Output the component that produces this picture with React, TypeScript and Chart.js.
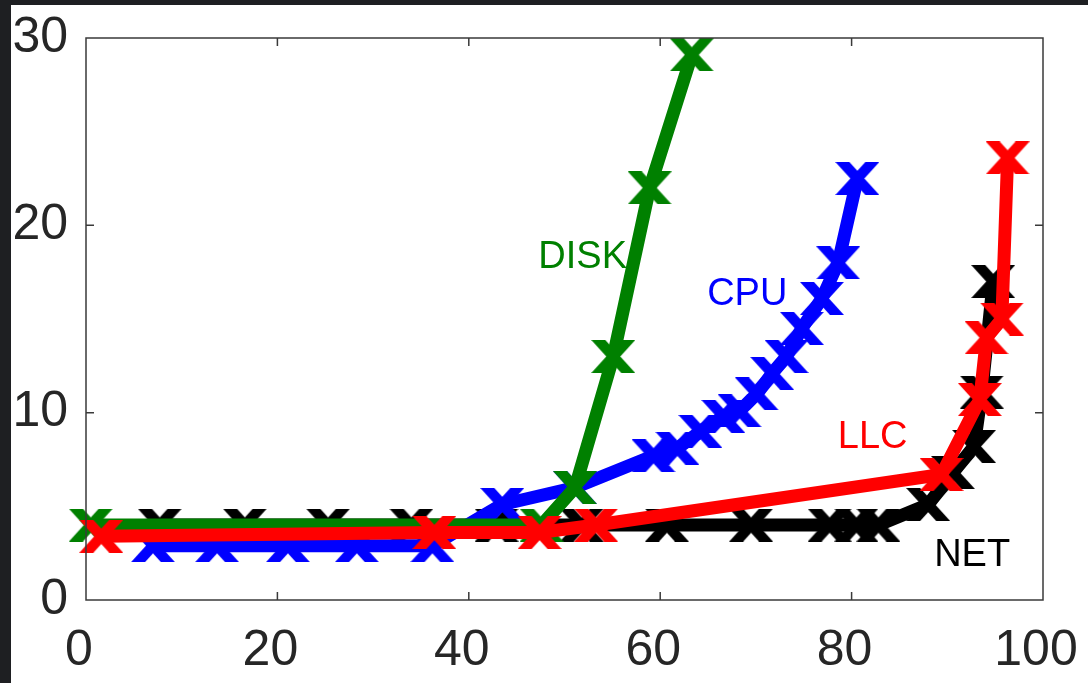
import React, { useEffect, useRef } from "react";
import { Chart, registerables } from "chart.js";

Chart.register(...registerables);

// ---- data ----
const xTickValues = [0, 20, 40, 60, 80, 100];
const yTickValues = [0, 10, 20, 30];

const netX = [7.7, 16.6, 25.3, 34.0, 42.9, 51.8, 60.7, 69.5, 77.7, 80.5, 82.8, 88.0, 90.6, 92.8, 93.6, 94.8];
const netY = [4.0, 4.0, 4.0, 4.0, 4.0, 4.0, 4.0, 4.0, 4.0, 4.0, 4.0, 5.1, 6.8, 8.2, 11.1, 17.0];

const cpuX = [7.0, 13.7, 21.1, 28.3, 36.2, 43.5, 51.1, 59.3, 61.8, 64.2, 66.6, 68.3, 70.1, 71.7, 73.2, 74.8, 76.9, 78.6, 80.6];
const cpuY = [2.9, 2.9, 2.9, 2.9, 2.9, 5.1, 6.0, 7.7, 8.1, 9.0, 9.8, 10.1, 11.0, 12.1, 13.0, 14.5, 16.1, 18.0, 22.5];

const diskX = [0.5, 47.6, 51.1, 55.1, 58.9, 63.3];
const diskY = [4.0, 4.0, 6.0, 13.0, 22.0, 29.1];

const llcX = [1.6, 36.4, 47.4, 53.3, 89.4, 93.4, 94.1, 95.7, 96.3];
const llcY = [3.4, 3.6, 3.6, 4.0, 6.7, 10.7, 14.0, 15.0, 23.6];

const seriesNames = ["LLC", "DISK", "CPU", "NET"];
const seriesColors = ["#ff0000", "#008000", "#0000ff", "#000000"];
// inline label anchor positions (data coordinates)
const labelX = [82.2, 51.9, 69.1, 92.6];
const labelY = [8.7, 18.3, 16.3, 2.35];

const FONT = "'Liberation Sans', Arial, Helvetica, sans-serif";

function makeMarker(color: string): HTMLCanvasElement {
  const W = 44;
  const H = 33;
  const s = 14;
  const c = document.createElement("canvas");
  c.width = W;
  c.height = H;
  const g = c.getContext("2d")!;
  g.fillStyle = color;
  g.beginPath();
  g.moveTo(0, 0);
  g.lineTo(s, 0);
  g.lineTo(W, H);
  g.lineTo(W - s, H);
  g.closePath();
  g.fill();
  g.beginPath();
  g.moveTo(W - s, 0);
  g.lineTo(W, 0);
  g.lineTo(s, H);
  g.lineTo(0, H);
  g.closePath();
  g.fill();
  return c;
}

function zip(xs: number[], ys: number[]) {
  return xs.map((x, i) => ({ x, y: ys[i] }));
}

const framePlugin = {
  id: "frame",
  afterDraw(chart: any) {
    const { ctx, chartArea: a, scales } = chart;
    ctx.save();
    ctx.strokeStyle = "#3a3a3a";
    ctx.lineWidth = 1.5;
    ctx.strokeRect(a.left, a.top, a.right - a.left, a.bottom - a.top);
    const tl = 8;
    ctx.beginPath();
    for (const v of xTickValues) {
      const px = scales.x.getPixelForValue(v);
      if (Math.abs(px - a.left) < 2 || Math.abs(px - a.right) < 2) continue;
      ctx.moveTo(px, a.bottom);
      ctx.lineTo(px, a.bottom - tl);
      ctx.moveTo(px, a.top);
      ctx.lineTo(px, a.top + tl);
    }
    for (const v of yTickValues) {
      const py = scales.y.getPixelForValue(v);
      if (Math.abs(py - a.top) < 2 || Math.abs(py - a.bottom) < 2) continue;
      ctx.moveTo(a.left, py);
      ctx.lineTo(a.left + tl, py);
      ctx.moveTo(a.right, py);
      ctx.lineTo(a.right - tl, py);
    }
    ctx.stroke();
    ctx.restore();
  },
};

const labelPlugin = {
  id: "inlineLabels",
  afterDatasetsDraw(chart: any) {
    const { ctx, scales } = chart;
    ctx.save();
    ctx.font = `38px ${FONT}`;
    ctx.textAlign = "center";
    ctx.textBaseline = "middle";
    seriesNames.forEach((name, i) => {
      ctx.fillStyle = seriesColors[i];
      ctx.fillText(name, scales.x.getPixelForValue(labelX[i]), scales.y.getPixelForValue(labelY[i]));
    });
    ctx.restore();
  },
};

export default function App() {
  const ref = useRef<HTMLCanvasElement | null>(null);

  useEffect(() => {
    if (!ref.current) return;
    const seriesData = [zip(llcX, llcY), zip(diskX, diskY), zip(cpuX, cpuY), zip(netX, netY)];
    const datasets = seriesNames.map((name, i) => ({
      label: name,
      data: seriesData[i],
      borderColor: seriesColors[i],
      backgroundColor: seriesColors[i],
      borderWidth: 13,
      borderJoinStyle: "round" as const,
      borderCapStyle: "butt" as const,
      pointStyle: makeMarker(seriesColors[i]),
      pointRadius: 20,
      pointHoverRadius: 20,
      tension: 0,
      order: i,
      clip: false as any,
    }));

    const tickFont = { family: FONT, size: 50 };
    const chart = new Chart(ref.current, {
      type: "line",
      data: { datasets },
      options: {
        animation: false,
        responsive: false,
        maintainAspectRatio: false,
        events: [],
        layout: { padding: { top: 33, right: 45, left: 0, bottom: 0 } },
        plugins: { legend: { display: false }, tooltip: { enabled: false } },
        scales: {
          x: {
            type: "linear",
            min: 0,
            max: 100,
            grid: { display: false, drawTicks: false },
            border: { display: false },
            afterBuildTicks: (s: any) => {
              s.ticks = xTickValues.map((v) => ({ value: v }));
            },
            afterFit: (s: any) => {
              s.height = 83;
              s.paddingLeft = 0;
              s.paddingRight = 0;
            },
            ticks: { color: "#262626", font: tickFont, padding: 21, maxRotation: 0, autoSkip: false, labelOffset: -7 },
          },
          y: {
            type: "linear",
            min: 0,
            max: 30,
            grid: { display: false, drawTicks: false },
            border: { display: false },
            afterBuildTicks: (s: any) => {
              s.ticks = yTickValues.map((v) => ({ value: v }));
            },
            afterFit: (s: any) => {
              s.width = 75;
              s.paddingTop = 0;
              s.paddingBottom = 0;
            },
            ticks: { color: "#262626", font: tickFont, padding: 18 },
          },
        },
      },
      plugins: [framePlugin, labelPlugin],
    });
    return () => chart.destroy();
  }, []);

  return (
    <div style={{ position: "fixed", left: 0, top: 0, width: 1088, height: 683, background: "#1e1f22", overflow: "hidden" }}>
      <div style={{ position: "absolute", left: 11, top: 5, width: 1077, height: 678, background: "#ffffff" }}>
        <canvas ref={ref} width={1077} height={678} style={{ width: 1077, height: 678, display: "block" }} />
      </div>
    </div>
  );
}
